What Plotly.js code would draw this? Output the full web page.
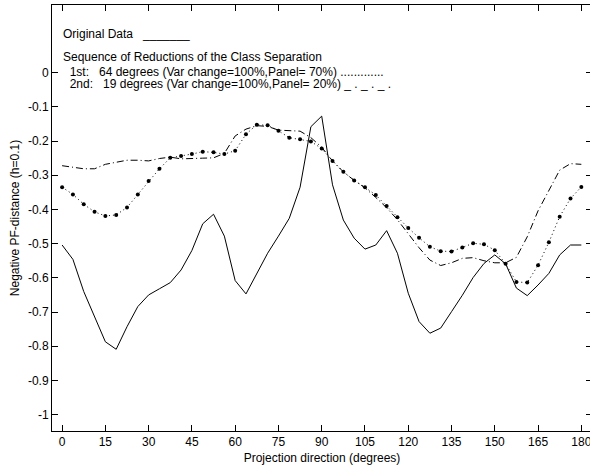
<!DOCTYPE html>
<html>
<head>
<meta charset="utf-8">
<script src="https://cdn.plot.ly/plotly-3.0.1.min.js"></script>
<style>
html,body{margin:0;padding:0;overflow:hidden;background:#fff;}
#chart{width:596px;height:466px;}
</style>
</head>
<body>
<div id="chart"></div>
<script>
// Projection directions (degrees), sampled every 3.75 degrees
const directions = [0,3.75,7.5,11.25,15,18.75,22.5,26.25,30,33.75,37.5,41.25,45,48.75,52.5,56.25,60,63.75,67.5,71.25,75,78.75,82.5,86.25,90,93.75,97.5,101.25,105,108.75,112.5,116.25,120,123.75,127.5,131.25,135,138.75,142.5,146.25,150,153.75,157.5,161.25,165,168.75,172.5,176.25,180];

// Original data (solid)
const originalData = [-0.504,-0.546,-0.640,-0.713,-0.787,-0.809,-0.743,-0.684,-0.650,-0.632,-0.614,-0.577,-0.520,-0.442,-0.414,-0.478,-0.608,-0.647,-0.589,-0.528,-0.478,-0.426,-0.335,-0.158,-0.127,-0.328,-0.431,-0.484,-0.516,-0.504,-0.462,-0.528,-0.645,-0.728,-0.762,-0.747,-0.699,-0.651,-0.599,-0.558,-0.533,-0.559,-0.630,-0.652,-0.621,-0.587,-0.533,-0.504,-0.504];

// 1st reduction: 64 degrees (dotted)
const firstReduction = [-0.335,-0.356,-0.385,-0.407,-0.419,-0.416,-0.394,-0.356,-0.317,-0.281,-0.249,-0.244,-0.238,-0.231,-0.233,-0.238,-0.228,-0.180,-0.152,-0.154,-0.170,-0.190,-0.195,-0.201,-0.222,-0.258,-0.290,-0.315,-0.335,-0.358,-0.390,-0.423,-0.454,-0.483,-0.509,-0.522,-0.523,-0.511,-0.499,-0.502,-0.519,-0.559,-0.612,-0.614,-0.563,-0.496,-0.421,-0.368,-0.334];

// 2nd reduction: 19 degrees (dash-dot)
const secondReduction = [-0.272,-0.277,-0.281,-0.281,-0.268,-0.262,-0.256,-0.256,-0.258,-0.251,-0.247,-0.252,-0.252,-0.250,-0.249,-0.236,-0.185,-0.165,-0.155,-0.157,-0.168,-0.170,-0.171,-0.190,-0.218,-0.258,-0.290,-0.315,-0.337,-0.365,-0.395,-0.430,-0.470,-0.512,-0.548,-0.564,-0.556,-0.543,-0.541,-0.550,-0.556,-0.556,-0.540,-0.480,-0.404,-0.343,-0.285,-0.266,-0.268];

const xTicks = [0,15,30,45,60,75,90,105,120,135,150,165,180];
const yTicks = [0,-0.1,-0.2,-0.3,-0.4,-0.5,-0.6,-0.7,-0.8,-0.9,-1];
const yTickText = ["0","-0.1","-0.2","-0.3","-0.4","-0.5","-0.6","-0.7","-0.8","-0.9","-1"];

const legendLines = [
  "Original Data\u00a0\u00a0\u00a0_______",
  "Sequence of Reductions of the Class Separation",
  "\u00a0\u00a01st:\u00a0\u00a0\u00a064 degrees (Var change=100%,Panel= 70%) .............",
  "\u00a0\u00a02nd:\u00a0\u00a0\u00a019 degrees (Var change=100%,Panel= 20%) _ . _ . _ ."
];
const legendY = [0.113, 0.046, 0.002, -0.032];

const FONT = "Liberation Sans, Arial, Helvetica, sans-serif";

const traces = [
  {x: directions, y: originalData, mode: 'lines', line: {color: '#000', width: 1}, hoverinfo: 'skip'},
  {x: directions, y: firstReduction, mode: 'lines+markers', line: {color: '#000', width: 1, dash: '1px,3px'}, marker: {color: '#000', size: 4}, hoverinfo: 'skip'},
  {x: directions, y: secondReduction, mode: 'lines', line: {color: '#000', width: 1, dash: '7px,3px,1px,3px'}, hoverinfo: 'skip'}
];

const annotations = legendLines.map((t, i) => ({
  text: t, x: 0, y: legendY[i], xref: 'x', yref: 'y',
  xanchor: 'left', yanchor: 'middle', showarrow: false, borderpad: 0,
  font: {family: FONT, size: 12, color: '#000'}
}));

const layout = {
  width: 596, height: 466,
  margin: {l: 52, r: 4, t: 5, b: 35},
  paper_bgcolor: '#fff', plot_bgcolor: '#fff',
  showlegend: false,
  font: {family: FONT, size: 12, color: '#000'},
  xaxis: {
    range: [-3.5, 183.7], tickvals: xTicks, ticks: 'inside', ticklen: 6, tickcolor: '#000',
    showline: true, linecolor: '#000', linewidth: 1, mirror: 'ticks', showgrid: false, zeroline: false,
    tickfont: {family: FONT, size: 12},
    title: {text: 'Projection direction (degrees)', font: {family: FONT, size: 12}, standoff: 5}
  },
  yaxis: {
    range: [-1.048, 0.198], tickvals: yTicks, ticktext: yTickText, ticks: 'inside', ticklen: 6, tickcolor: '#000',
    showline: true, linecolor: '#000', linewidth: 1, mirror: 'ticks', showgrid: false, zeroline: false,
    tickfont: {family: FONT, size: 12},
    title: {text: 'Negative PF-distance (h=0.1)', font: {family: FONT, size: 12}, standoff: 5}
  },
  annotations: annotations
};

Plotly.newPlot('chart', traces, layout, {displayModeBar: false, staticPlot: true});
</script>
</body>
</html>
